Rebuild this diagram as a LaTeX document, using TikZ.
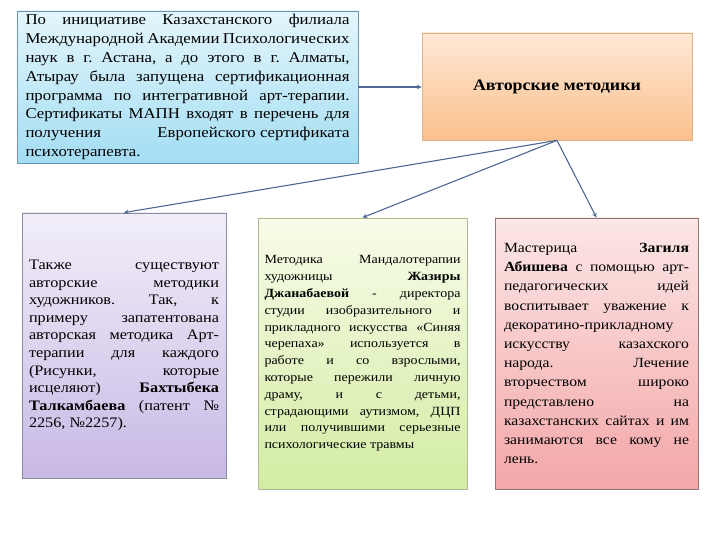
\documentclass[tikz,border=0pt]{standalone}
\usepackage{fontspec}
\setmainfont[FakeStretch=1.12]{Liberation Serif}
\usepackage{tikz}
\usetikzlibrary{arrows,positioning}
\frenchspacing

\definecolor{infotop}{HTML}{E4F6FC}
\definecolor{infobot}{HTML}{A3DDF3}
\definecolor{infoline}{HTML}{6E93AE}
\definecolor{authtop}{HTML}{FEE8D6}
\definecolor{authbot}{HTML}{FBC08C}
\definecolor{authline}{HTML}{DDB48E}
\definecolor{purtop}{HTML}{F2EEF9}
\definecolor{purbot}{HTML}{C8B9E5}
\definecolor{purline}{HTML}{8C8A9E}
\definecolor{grntop}{HTML}{F8FCE9}
\definecolor{grnbot}{HTML}{D3ECA3}
\definecolor{grnline}{HTML}{AEB997}
\definecolor{pnktop}{HTML}{FCE6E6}
\definecolor{pnkbot}{HTML}{F4A7A8}
\definecolor{pnkline}{HTML}{8E7777}
\definecolor{linkblue}{HTML}{4E6893}

\tikzset{
	box/.style={draw, rectangle, inner sep=0pt, line width=0.8pt, align=justify},
	link/.style={->, >=stealth, draw=linkblue, line width=1.1pt},
}

\begin{document}
\begin{tikzpicture}[x=1pt,y=-1pt]
	% Fix the page size
	\useasboundingbox (0,0) rectangle (720,540);
	% Draw the top boxes
	\node (info) [box, draw=infoline, top color=infotop, bottom color=infobot,
		minimum width=341pt, minimum height=152pt, text width=324pt,
		font=\fontsize{15}{18.9}\selectfont] at (187.5,87)
		{По инициативе Казахстанского филиала\linebreak
		Международной Академии Психологических\linebreak
		наук в г. Астана, а до этого в г. Алматы,\linebreak
		Атырау была запущена сертификационная\linebreak
		программа по интегративной арт-терапии.\linebreak
		Сертификаты МАПН входят в перечень для\linebreak
		получения\hfill Европейского сертификата\linebreak
		психотерапевта.};
	\node (auth) [box, draw=authline, top color=authtop, bottom color=authbot,
		minimum width=270pt, minimum height=107pt, align=center,
		font=\fontsize{16}{19}\selectfont\bfseries] at (557,86.5) {Авторские методики};
	% Draw the three methods
	\node (tech1) [box, draw=purline, top color=purtop, bottom color=purbot,
		minimum width=204pt, minimum height=265pt, text width=190pt,
		font=\fontsize{14.5}{17.6}\selectfont] at (124,345.5)
		{Также существуют\linebreak
		авторские методики\linebreak
		художников. Так, к\linebreak
		примеру запатентована\linebreak
		авторская методика Арт-\linebreak
		терапии для каждого\linebreak
		(Рисунки, которые\linebreak
		исцеляют) \textbf{Бахтыбека}\linebreak
		\textbf{Талкамбаева} (патент №\linebreak
		2256, №2257).};
	\node (tech2) [box, draw=grnline, top color=grntop, bottom color=grnbot,
		minimum width=209pt, minimum height=271pt, text width=196pt,
		font=\fontsize{12.5}{16.8}\selectfont] at (362.5,353.5)
		{Методика Мандалотерапии\linebreak
		художницы \textbf{Жазиры}\linebreak
		\textbf{Джанабаевой} - директора\linebreak
		студии изобразительного и\linebreak
		прикладного искусства «Синяя\linebreak
		черепаха» используется в\linebreak
		работе и со взрослыми,\linebreak
		которые пережили личную\linebreak
		драму, и с детьми,\linebreak
		страдающими аутизмом, ДЦП\linebreak
		или получившими серьезные\linebreak
		психологические травмы};
	\node (tech3) [box, draw=pnkline, top color=pnktop, bottom color=pnkbot,
		minimum width=203pt, minimum height=271pt, text width=185pt,
		font=\fontsize{14}{19.2}\selectfont] at (596.5,353.5)
		{Мастерица \textbf{Загиля}\linebreak
		\textbf{Абишева} с помощью арт-\linebreak
		педагогических идей\linebreak
		воспитывает уважение к\linebreak
		декоратино-прикладному\linebreak
		искусству казахского\linebreak
		народа. Лечение\linebreak
		вторчеством широко\linebreak
		представлено на\linebreak
		казахстанских сайтах и им\linebreak
		занимаются все кому не\linebreak
		лень.};
	% Draw the connectors
	\draw [link] (info.east) -- (auth.west |- info.east);
	\draw [link] (auth.south) -- (tech1.north);
	\draw [link] (auth.south) -- (tech2.north);
	\draw [link] (auth.south) -- (tech3.north);
\end{tikzpicture}
\end{document}
